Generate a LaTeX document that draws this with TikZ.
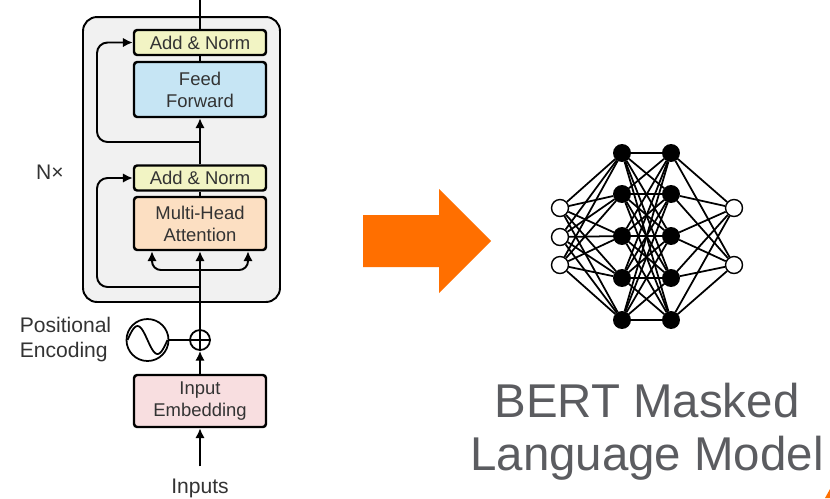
\documentclass[tikz,border=0pt]{standalone}
\usepackage{fontspec}
\setmainfont{Liberation Sans}
\usetikzlibrary{shapes,arrows,arrows.meta}

\definecolor{normyellow}{HTML}{F2F4C4}
\definecolor{ffblue}{HTML}{C6E5F4}
\definecolor{attpeach}{HTML}{FCDFC2}
\definecolor{embpink}{HTML}{F8DEE0}
\definecolor{stackgray}{HTML}{F1F1F1}
\definecolor{labelgray}{HTML}{333333}
\definecolor{titlegray}{HTML}{5B5C60}
\definecolor{arroworange}{HTML}{FF6F00}

\tikzstyle{block} = [draw, rectangle, rounded corners=1.8pt, line width=1.4pt,
minimum width=2.64cm, inner sep=0pt, align=center, text=labelgray,
font=\fontsize{10.5}{12.5}\selectfont]
\tikzstyle{addnorm} = [block, fill=normyellow, minimum height=0.5cm]
\tikzstyle{stack} = [draw, rectangle, rounded corners=0.28cm, fill=stackgray,
minimum width=3.94cm, minimum height=5.7cm]
\tikzstyle{label} = [text=labelgray, font=\fontsize{12}{14.2}\selectfont]
\tikzstyle{neuron} = [draw, circle, fill=black, minimum size=0.32cm, inner sep=0pt]
\tikzstyle{io unit} = [draw, circle, fill=white, minimum size=0.34cm, inner sep=0pt,
line width=0.8pt]

\begin{document}
\begin{tikzpicture}[x=0.02cm, y=-0.02cm, >={Latex[length=5.6pt,width=5.4pt]}, line width=1.1pt]

	\useasboundingbox (0,0) rectangle (830,498);

	% encoder layer
	\node [stack] (stack) at (181.5,159.5) {};
	\node [addnorm] (norm top) at (200,42.5) {Add \& Norm};
	\node [block, fill=ffblue, minimum height=1.1cm] (feed forward) at (200,89.5) {Feed\\Forward};
	\node [addnorm] (norm bottom) at (200,178) {Add \& Norm};
	\node [block, fill=attpeach, minimum height=1.06cm] (attention) at (200,223.5) {Multi-Head\\Attention};
	\node [block, fill=embpink, minimum height=1.04cm] (embedding) at (200,401) {Input\\Embedding};

	\node [draw, circle, fill=white, minimum size=0.4cm, inner sep=0pt, line width=1pt] (add) at (200,340) {};
	\draw [line width=1pt] (add.north) -- (add.south) (add.west) -- (add.east);
	\node [draw, circle, minimum size=0.84cm, inner sep=0pt, line width=1pt] (pos enc) at (147.5,340) {};
	\draw [line width=1pt] plot[domain=-1:1, samples=41, smooth] ({147.5+20*\x},{340+14*sin(\x*180)});

	\node [label] (nx) at (50,172) {N×};
	\node [label, align=left, anchor=east] (pos label) at (118,340) {Positional\\Encoding};
	\node [label, anchor=base] (inputs) at (200,493) {Inputs};

	\coordinate (out) at (200,0);
	\coordinate (res top) at (200,142);
	\coordinate (split) at (200,270);
	\coordinate (res bottom) at (200,287);

	\draw (out) -- (norm top);
	\draw (norm top) -- (feed forward);
	\draw [->] (norm bottom) -- (feed forward);
	\draw [->, rounded corners=6pt] (res top) -- ++(-103,0) |- (norm top.west);
	\draw (norm bottom) -- (attention);
	\draw [->] (add) -- (attention);
	\draw [->, rounded corners=5pt] (split) -| ([xshift=-0.96cm]attention.south);
	\draw [->, rounded corners=5pt] (split) -| ([xshift=0.96cm]attention.south);
	\draw [->, rounded corners=6pt] (res bottom) -- ++(-103,0) |- (norm bottom.west);
	\draw [line width=1pt] (pos enc) -- (add);
	\draw [->] (embedding) -- (add);
	\draw [->] ([yshift=3pt]inputs.north) -- (embedding);

	% turns into
	\fill [arroworange] (363,215) -- (439,215) -- (439,189) -- (491,241)
		-- (439,293) -- (439,267) -- (363,267) -- cycle;
	\fill [arroworange] (825,498) -- (830,489) -- (830,498) -- cycle;

	% network
	\foreach \y [count=\i] in {208,237,265}
		\node [io unit] (in\i) at (560,\y) {};
	\foreach \y [count=\i] in {153,194,236,278,320} {
		\node [neuron] (ha\i) at (622,\y) {};
		\node [neuron] (hb\i) at (671,\y) {};
	}
	\foreach \y [count=\i] in {208,265}
		\node [io unit] (out\i) at (734,\y) {};

	\foreach \i in {1,2,3}
		\foreach \j in {1,...,5}
			\draw [line width=1pt] (in\i) -- (ha\j);
	\foreach \i in {1,...,5}
		\foreach \j in {1,...,5}
			\draw [line width=1pt] (ha\i) -- (hb\j);
	\foreach \i in {1,...,5}
		\foreach \j in {1,2}
			\draw [line width=1pt] (hb\i) -- (out\j);

	\node [align=center, text=titlegray, font=\fontsize{27}{30}\selectfont] (bert) at (647,432)
		{BERT Masked\\Language Model};

\end{tikzpicture}
\end{document}
